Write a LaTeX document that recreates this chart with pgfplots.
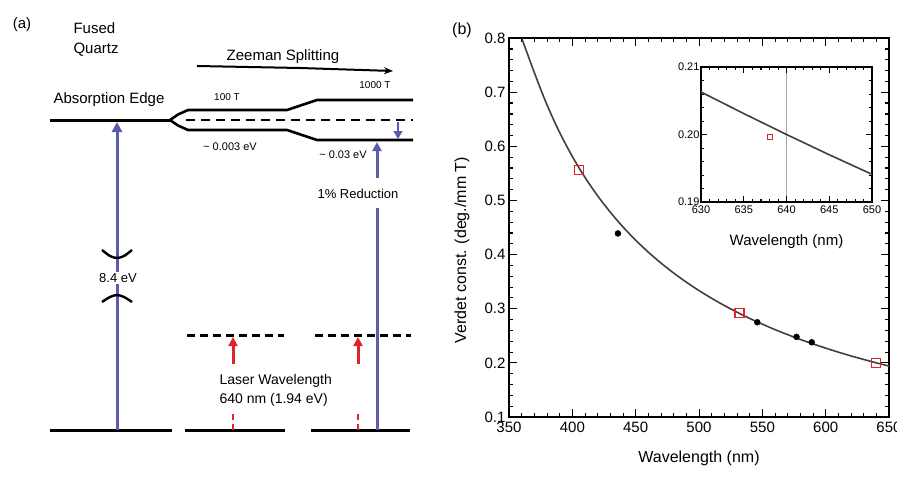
\documentclass[border=0pt]{standalone}
\usepackage{fontspec}
\setmainfont{Liberation Sans}
\usepackage{pgfplots}
\pgfplotsset{compat=1.18}
\usetikzlibrary{arrows.meta}
\definecolor{lvblue}{RGB}{92,92,172}
\definecolor{lvred}{RGB}{225,35,45}
\definecolor{curvec}{RGB}{72,62,56}
\newcommand{\fs}[1]{\fontsize{#1}{#1}\selectfont}

\pgfplotstableread{
x y
360 0.8000
370 0.7360
380 0.6765
390 0.6254
400 0.5812
410 0.5425
420 0.5084
430 0.4782
440 0.4510
450 0.4266
460 0.4044
470 0.3843
480 0.3659
490 0.3490
500 0.3335
510 0.3192
520 0.3059
530 0.2936
540 0.2821
550 0.2715
560 0.2614
570 0.2521
580 0.2432
590 0.2350
600 0.2272
610 0.2198
620 0.2128
630 0.2063
640 0.2000
650 0.1941
}\verdetfit

\pgfplotstableread{
x y
630 0.2063
635 0.2031
640 0.2000
645 0.1970
650 0.1941
}\insetfit

\begin{document}
\begin{tikzpicture}
\useasboundingbox (0pt,0pt) rectangle (897pt,477pt);

% ---------------- panel (b): Verdet constant ----------------
\begin{axis}[at={(509pt,60pt)}, anchor=south west, scale only axis,
  width=380pt, height=379pt, axis lines=box,
  xmin=350, xmax=650, ymin=0.1, ymax=0.8,
  xtick={350,400,450,500,550,600,650},
  ytick={0.1,0.2,0.3,0.4,0.5,0.6,0.7,0.8},
  minor x tick num=4, minor y tick num=4,
  xtick pos=both, ytick pos=both,
  tick align=inside, major tick length=8pt, minor tick length=4pt,
  axis line style={line width=1.5pt},
  tick style={draw=black, line width=1pt},
  scaled ticks=false,
  /pgf/number format/assume math mode=true,
  ticklabel style={font=\fs{15}},
  yticklabel style={/pgf/number format/fixed, /pgf/number format/precision=1, /pgf/number format/fixed zerofill},
  xticklabel style={/pgf/number format/1000 sep={}, yshift=-1pt},
  xlabel={Wavelength (nm)},
  ylabel={Verdet const. (deg./mm T)},
  label style={font=\fs{16}},
  xlabel style={at={(axis description cs:0.5,-0.108)}, anchor=center},
  ylabel style={at={(axis description cs:-0.124,0.44)}, anchor=center}]
\addplot[curvec, line width=1.6pt, smooth] table[x=x,y=y] {\verdetfit};
\addplot[only marks, mark=square, mark size=4.5pt, lvred, mark options={line width=1.1pt}] coordinates {(405,0.556) (532,0.292) (640,0.200)};
\addplot[only marks, mark=*, mark size=3pt, black] coordinates {(436,0.439) (546,0.275) (577,0.248) (589,0.238)};
% tick marks drawn explicitly (inside, on all four sides)
\pgfplotsinvokeforeach{350,360,...,650}{
  \draw[black, line width=0.9pt] (axis cs:#1,0.1) -- ++(0pt,4pt);
  \draw[black, line width=0.9pt] (axis cs:#1,0.8) -- ++(0pt,-4pt);
}
\pgfplotsinvokeforeach{350,400,...,650}{
  \draw[black, line width=1pt] (axis cs:#1,0.1) -- ++(0pt,8pt);
  \draw[black, line width=1pt] (axis cs:#1,0.8) -- ++(0pt,-8pt);
}
\pgfplotsinvokeforeach{0.1,0.12,...,0.8}{
  \draw[black, line width=0.9pt] (axis cs:350,#1) -- ++(4pt,0pt);
  \draw[black, line width=0.9pt] (axis cs:650,#1) -- ++(-4pt,0pt);
}
\pgfplotsinvokeforeach{0.1,0.2,0.3,0.4,0.5,0.6,0.7,0.8}{
  \draw[black, line width=1pt] (axis cs:350,#1) -- ++(8pt,0pt);
  \draw[black, line width=1pt] (axis cs:650,#1) -- ++(-8pt,0pt);
}
\end{axis}

\node[font=\fs{16}] at (462pt,447pt) {(b)};

% ---------------- inset ----------------
\begin{axis}[at={(701pt,275pt)}, anchor=south west, scale only axis,
  width=171pt, height=135pt, axis lines=box,
  xmin=630, xmax=650, ymin=0.19, ymax=0.21,
  xtick={630,635,640,645,650},
  ytick={0.19,0.20,0.21},
  minor x tick num=4, minor y tick num=4,
  xtick pos=both, ytick pos=both,
  tick align=inside, major tick length=6pt, minor tick length=3pt,
  axis line style={line width=1.3pt},
  tick style={draw=black, line width=0.8pt},
  axis background/.style={fill=white},
  scaled ticks=false,
  /pgf/number format/assume math mode=true,
  ticklabel style={font=\fs{11}},
  yticklabel style={/pgf/number format/fixed, /pgf/number format/precision=2, /pgf/number format/fixed zerofill, xshift=2pt},
  xticklabel style={/pgf/number format/1000 sep={}},
  xlabel={Wavelength (nm)},
  label style={font=\fs{15}},
  xlabel style={at={(axis description cs:0.5,-0.296)}, anchor=center}]
\addplot[gray!70, line width=1pt] coordinates {(640,0.19) (640,0.21)};
\addplot[curvec, line width=1.6pt] table[x=x,y=y] {\insetfit};
\addplot[only marks, mark=square, mark size=2.5pt, lvred, mark options={line width=0.8pt}] coordinates {(638,0.1997)};
\pgfplotsinvokeforeach{630,631,...,650}{
  \draw[black, line width=0.7pt] (axis cs:#1,0.19) -- ++(0pt,3pt);
  \draw[black, line width=0.7pt] (axis cs:#1,0.21) -- ++(0pt,-3pt);
}
\pgfplotsinvokeforeach{630,635,640,645,650}{
  \draw[black, line width=0.8pt] (axis cs:#1,0.19) -- ++(0pt,6pt);
  \draw[black, line width=0.8pt] (axis cs:#1,0.21) -- ++(0pt,-6pt);
}
\pgfplotsinvokeforeach{0.19,0.192,...,0.21}{
  \draw[black, line width=0.7pt] (axis cs:630,#1) -- ++(3pt,0pt);
  \draw[black, line width=0.7pt] (axis cs:650,#1) -- ++(-3pt,0pt);
}
\pgfplotsinvokeforeach{0.19,0.20,0.21}{
  \draw[black, line width=0.8pt] (axis cs:630,#1) -- ++(6pt,0pt);
  \draw[black, line width=0.8pt] (axis cs:650,#1) -- ++(-6pt,0pt);
}
\end{axis}

% ---------------- panel (a): level diagram ----------------
\begin{axis}[at={(0pt,0pt)}, anchor=south west, scale only axis,
  width=440pt, height=477pt, xmin=0, xmax=440, ymin=0, ymax=477,
  y dir=reverse, hide axis, clip=false]
% absorption edge and Zeeman split levels
\addplot[black, line width=3pt] coordinates {(50,120) (171,120)};
\addplot[black, line width=2.6pt, line join=round] coordinates {(170,120) (178,114.5) (188,110) (287,110) (317,100) (413,100)};
\addplot[black, line width=2.6pt, line join=round] coordinates {(170,120) (178,125.5) (188,130) (287,130) (317,140) (413,140)};
\addplot[black, line width=2.6pt, dash pattern=on 9pt off 6pt] coordinates {(186,120) (413,120)};
% Zeeman splitting arrow
\addplot[black, line width=2pt, -{Stealth[length=9pt,width=7pt]}] coordinates {(197,66) (300,68) (393,71)};
% ground levels
\addplot[black, line width=3pt] coordinates {(50,430) (172,430)};
\addplot[black, line width=3pt] coordinates {(185,430) (285,430)};
\addplot[black, line width=3pt] coordinates {(311,430) (410,430)};
% virtual levels
\addplot[black, line width=3pt, dash pattern=on 8pt off 5pt] coordinates {(187,335) (284,335)};
\addplot[black, line width=3pt, dash pattern=on 8pt off 5pt] coordinates {(315,335) (411,335)};
% blue transitions
\addplot[lvblue, line width=3pt, -{Triangle[length=10pt,width=10pt]}] coordinates {(117,430) (117,122)};
\addplot[lvblue, line width=3pt] coordinates {(377,430) (377,208)};
\addplot[lvblue, line width=3pt, -{Triangle[length=9pt,width=9pt]}] coordinates {(377,178) (377,142)};
\addplot[lvblue, line width=1.5pt, -{Triangle[length=8pt,width=9pt]}] coordinates {(398,122) (398,139)};
% red laser arrows
\addplot[lvred, line width=3pt, -{Triangle[length=9pt,width=9pt]}] coordinates {(233,364) (233,337)};
\addplot[lvred, line width=3pt, -{Triangle[length=9pt,width=9pt]}] coordinates {(358,364) (358,337)};
\addplot[lvred, line width=2.5pt, dash pattern=on 6pt off 4pt] coordinates {(233,414) (233,430)};
\addplot[lvred, line width=2.5pt, dash pattern=on 6pt off 4pt] coordinates {(358,414) (358,430)};
% break marks
\addplot[black, line width=2.4pt, smooth] coordinates {(102,250) (110,256) (117,258) (124,256) (132,250)};
\addplot[black, line width=2.4pt, smooth] coordinates {(102,302) (110,297) (117,295) (124,297) (132,302)};
% texts
\node[font=\fs{15}] at (22,25) {(a)};
\node[font=\fs{15}, anchor=west] at (70,28) {Fused};
\node[font=\fs{15}, anchor=west] at (70,50) {Quartz};
\node[font=\fs{15}] at (283,57) {Zeeman Splitting};
\node[font=\fs{10}] at (375,85) {1000 T};
\node[font=\fs{15}] at (109,100) {Absorption Edge};
\node[font=\fs{10}] at (227,97) {100 T};
\node[font=\fs{11}] at (230,147) {\textasciitilde{} 0.003 eV};
\node[font=\fs{11}] at (343,155) {\textasciitilde{} 0.03 eV};
\node[font=\fs{13}] at (358,194) {1\% Reduction};
\node[font=\fs{13}, fill=white, inner sep=1pt] at (118,278) {8.4 eV};
\node[font=\fs{14}, anchor=west] at (216,381) {Laser Wavelength};
\node[font=\fs{14}, anchor=west] at (216,400) {640 nm (1.94 eV)};
\end{axis}
\end{tikzpicture}
\end{document}
